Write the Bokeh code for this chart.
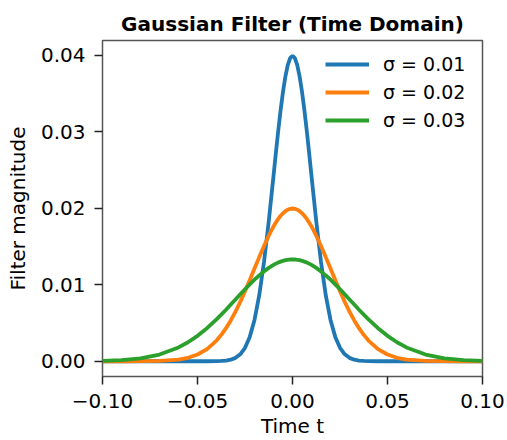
from bokeh.plotting import figure
from bokeh.models import (Range1d, FixedTicker, CustomJSTickFormatter,
                          NumeralTickFormatter, Legend, LegendItem)
from bokeh.embed import file_html
from bokeh.resources import INLINE

title_text = "Gaussian Filter (Time Domain)"
x_label = "Time t"
y_label = "Filter magnitude"

t_values = [-0.1, -0.09, -0.08, -0.07, -0.06, -0.055, -0.05, -0.045,
            -0.04, -0.0375, -0.035, -0.0325, -0.03, -0.0275, -0.025, -0.0225,
            -0.02, -0.0175, -0.015, -0.0125,
            -0.01, -0.00875, -0.0075, -0.00625, -0.005, -0.00375, -0.0025, -0.00125,
            0.0,
            0.00125, 0.0025, 0.00375, 0.005, 0.00625, 0.0075, 0.00875, 0.01,
            0.0125, 0.015, 0.0175, 0.02,
            0.0225, 0.025, 0.0275, 0.03, 0.0325, 0.035, 0.0375, 0.04,
            0.045, 0.05, 0.055, 0.06, 0.07, 0.08, 0.09, 0.1]

sigma_001 = [0, 0, 0, 0, 0, 0, 0, 0,
             0.00001, 0.00004, 0.00009, 0.00020, 0.00044, 0.00091, 0.00175, 0.00318,
             0.00540, 0.00863, 0.01296, 0.01827,
             0.02420, 0.02721, 0.03012, 0.03282, 0.03521, 0.03719, 0.03867, 0.03959,
             0.03990,
             0.03959, 0.03867, 0.03719, 0.03521, 0.03282, 0.03012, 0.02721, 0.02420,
             0.01827, 0.01296, 0.00863, 0.00540,
             0.00318, 0.00175, 0.00091, 0.00044, 0.00020, 0.00009, 0.00004, 0.00001,
             0, 0, 0, 0, 0, 0, 0, 0]

sigma_002 = [0, 0, 0.00001, 0.00004, 0.00022, 0.00045, 0.00088, 0.00159,
             0.00270, 0.00344, 0.00432, 0.00533, 0.00648, 0.00775, 0.00913, 0.01060,
             0.01210, 0.01360, 0.01506, 0.01641,
             0.01761, 0.01813, 0.01860, 0.01900, 0.01934, 0.01960, 0.01979, 0.01991,
             0.01995,
             0.01991, 0.01979, 0.01960, 0.01934, 0.01900, 0.01860, 0.01813, 0.01761,
             0.01641, 0.01506, 0.01360, 0.01210,
             0.01060, 0.00913, 0.00775, 0.00648, 0.00533, 0.00432, 0.00344, 0.00270,
             0.00159, 0.00088, 0.00045, 0.00022, 0.00004, 0.00001, 0, 0]

sigma_003 = [0.00005, 0.00015, 0.00038, 0.00087, 0.00180, 0.00248, 0.00332, 0.00432,
             0.00547, 0.00609, 0.00673, 0.00740, 0.00807, 0.00874, 0.00940, 0.01004,
             0.01065, 0.01122, 0.01174, 0.01219,
             0.01258, 0.01275, 0.01289, 0.01301, 0.01312, 0.01320, 0.01325, 0.01329,
             0.01330,
             0.01329, 0.01325, 0.01320, 0.01312, 0.01301, 0.01289, 0.01275, 0.01258,
             0.01219, 0.01174, 0.01122, 0.01065,
             0.01004, 0.00940, 0.00874, 0.00807, 0.00740, 0.00673, 0.00609, 0.00547,
             0.00432, 0.00332, 0.00248, 0.00180, 0.00087, 0.00038, 0.00015, 0.00005]

series_labels = ["σ = 0.01", "σ = 0.02", "σ = 0.03"]
series_colors = ["#1f77b4", "#ff7f0e", "#2ca02c"]

x_ticks = [-0.1, -0.05, 0.0, 0.05, 0.1]
y_ticks = [0.0, 0.01, 0.02, 0.03, 0.04]

FONT = "DejaVu Sans"
FS = "20px"

p = figure(width=507, height=440, output_backend="svg", toolbar_location=None,
           x_range=Range1d(-0.1, 0.1), y_range=Range1d(-0.001995, 0.041895),
           min_border_left=102, min_border_right=25, min_border_top=40,
           min_border_bottom=64, title=title_text)

p.title.text_font = FONT
p.title.text_font_size = FS
p.title.text_font_style = "bold"
p.title.align = "center"
p.title.text_color = "black"

p.grid.visible = False
p.background_fill_color = "white"
p.border_fill_color = "white"
p.outline_line_color = "#555555"
p.outline_line_width = 1.5

for ax in (p.xaxis[0], p.yaxis[0]):
    ax.axis_line_color = None
    ax.major_tick_line_color = "#222222"
    ax.major_tick_line_width = 1.5
    ax.major_tick_out = 8
    ax.major_tick_in = 0
    ax.minor_tick_line_color = None
    ax.major_label_text_font = FONT
    ax.major_label_text_font_size = FS
    ax.major_label_text_color = "black"
    ax.axis_label_text_font = FONT
    ax.axis_label_text_font_size = FS
    ax.axis_label_text_font_style = "normal"
    ax.axis_label_text_color = "black"

p.xaxis.ticker = FixedTicker(ticks=x_ticks)
p.yaxis.ticker = FixedTicker(ticks=y_ticks)
p.xaxis.formatter = CustomJSTickFormatter(
    code="return (tick < 0 ? '\\u2212' : '') + Math.abs(tick).toFixed(2);")
p.yaxis.formatter = NumeralTickFormatter(format="0.00")
p.xaxis.axis_label = x_label
p.yaxis.axis_label = y_label
p.xaxis.major_label_standoff = 9
p.xaxis.axis_label_standoff = 3
p.yaxis.major_label_standoff = 9
p.yaxis.axis_label_standoff = 8

items = []
for ys, lab, col in zip([sigma_001, sigma_002, sigma_003], series_labels, series_colors):
    r = p.line(t_values, ys, line_color=col, line_width=3.8)
    items.append(LegendItem(label=lab, renderers=[r]))

legend = Legend(items=items, location="top_right", margin=13, padding=0,
                spacing=6, glyph_width=44, glyph_height=22, label_standoff=14,
                label_width=86, label_height=22,
                label_text_font=FONT, label_text_font_size="19px",
                label_text_color="black",
                border_line_color=None, background_fill_alpha=0)
p.add_layout(legend)

open("out.html", "w").write(file_html(p, INLINE))
